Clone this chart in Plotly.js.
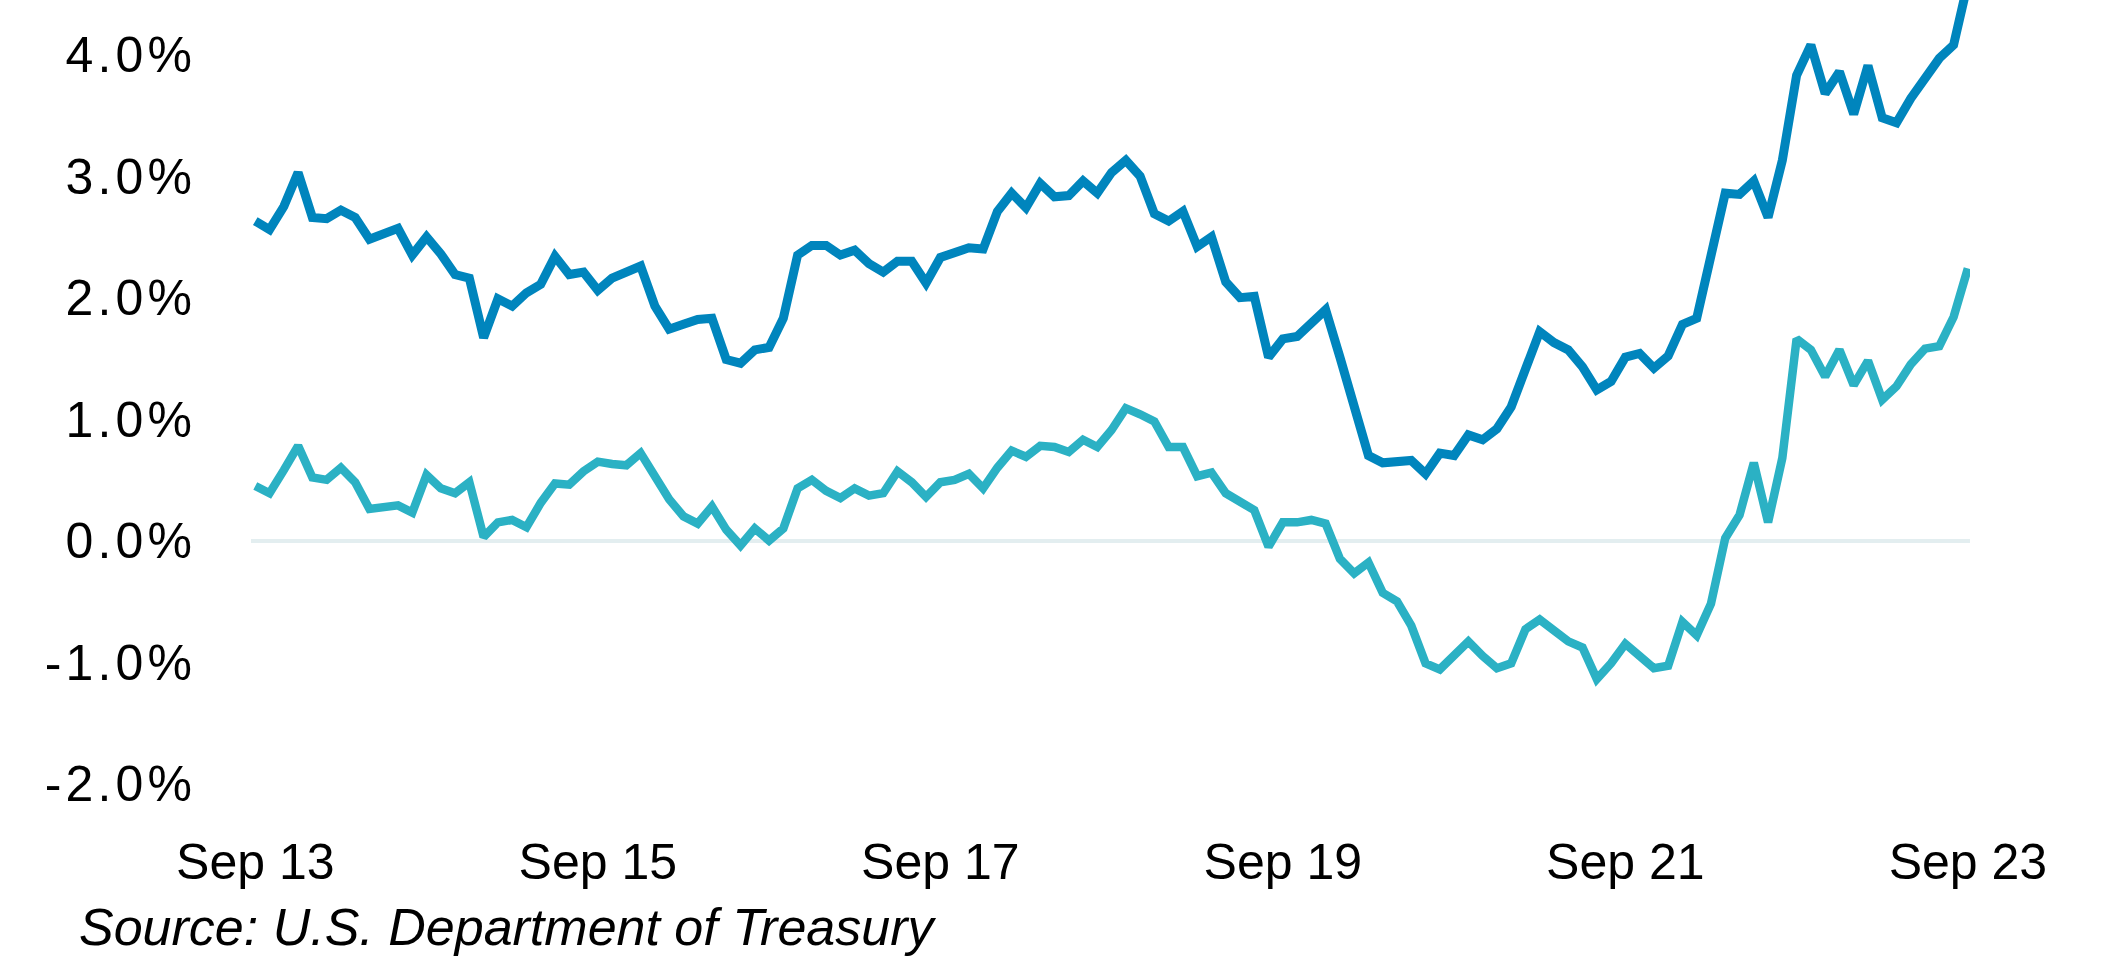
<!DOCTYPE html>
<html>
<head>
<meta charset="utf-8">
<script src="https://cdn.plot.ly/plotly-3.0.1.min.js"></script>
<style>
  html, body { margin: 0; padding: 0; background: #ffffff; }
  #chart { width: 2106px; height: 958px; }
</style>
</head>
<body>
<div id="chart"></div>
<script>
// Month categories: Sep 2013 .. Sep 2023 (121 monthly observations)
const monthNames = ["Jan","Feb","Mar","Apr","May","Jun","Jul","Aug","Sep","Oct","Nov","Dec"];
const months = [];
for (let k = 0; k < 121; k++) {
  const m = (8 + k) % 12;
  const y = 13 + Math.floor((8 + k) / 12);
  months.push(monthNames[m] + " " + String(y).padStart(2, "0"));
}

// 10-year nominal Treasury yield (%)
const nominal10y = [
  2.63, 2.56, 2.75, 3.03, 2.66, 2.65, 2.72, 2.66, 2.48, 2.52,
  2.57, 2.35, 2.50, 2.36, 2.19, 2.16, 1.67, 1.99, 1.93, 2.04,
  2.11, 2.34, 2.19, 2.21, 2.06, 2.16, 2.21, 2.26, 1.93, 1.74,
  1.78, 1.82, 1.83, 1.49, 1.46, 1.57, 1.59, 1.83, 2.35, 2.43,
  2.43, 2.35, 2.39, 2.28, 2.21, 2.30, 2.30, 2.12, 2.33, 2.37,
  2.41, 2.40, 2.71, 2.86, 2.74, 2.94, 2.83, 2.84, 2.96, 2.86,
  3.03, 3.13, 3.00, 2.69, 2.63, 2.71, 2.42, 2.50, 2.13, 2.00,
  2.01, 1.51, 1.66, 1.68, 1.78, 1.90, 1.51, 1.10, 0.70, 0.64,
  0.65, 0.66, 0.55, 0.72, 0.70, 0.87, 0.83, 0.92, 1.10, 1.43,
  1.72, 1.63, 1.57, 1.43, 1.24, 1.31, 1.51, 1.54, 1.42, 1.52,
  1.78, 1.83, 2.32, 2.86, 2.85, 2.96, 2.66, 3.13, 3.83, 4.08,
  3.68, 3.86, 3.51, 3.91, 3.48, 3.44, 3.64, 3.82, 3.97, 4.08,
  4.59
];

// 10-year real (TIPS) yield (%)
const real10y = [
  0.45, 0.39, 0.58, 0.78, 0.52, 0.50, 0.60, 0.48, 0.26, 0.28,
  0.29, 0.23, 0.54, 0.43, 0.39, 0.48, 0.03, 0.15, 0.17, 0.11,
  0.31, 0.47, 0.46, 0.57, 0.65, 0.63, 0.62, 0.72, 0.52, 0.34,
  0.20, 0.14, 0.28, 0.09, -0.04, 0.10, 0.00, 0.10, 0.43, 0.50,
  0.41, 0.35, 0.43, 0.37, 0.39, 0.57, 0.48, 0.36, 0.48, 0.50,
  0.55, 0.43, 0.60, 0.74, 0.69, 0.78, 0.77, 0.73, 0.83, 0.77,
  0.91, 1.09, 1.04, 0.98, 0.77, 0.77, 0.53, 0.56, 0.39, 0.31,
  0.25, -0.05, 0.15, 0.15, 0.17, 0.14, -0.15, -0.27, -0.18, -0.43,
  -0.50, -0.70, -1.01, -1.06, -0.95, -0.83, -0.95, -1.05, -1.01, -0.73,
  -0.65, -0.75, -0.83, -0.88, -1.14, -1.01, -0.85, -0.95, -1.05, -1.03,
  -0.67, -0.78, -0.52, 0.02, 0.21, 0.64, 0.15, 0.68, 1.66, 1.57,
  1.35, 1.57, 1.28, 1.48, 1.16, 1.27, 1.45, 1.58, 1.60, 1.84,
  2.24
];

const xTickVals = ["Sep 13", "Sep 15", "Sep 17", "Sep 19", "Sep 21", "Sep 23"];
const yTickVals = [-2, -1, 0, 1, 2, 3, 4];
const yTickText = ["-2.0%", "-1.0%", "0.0%", "1.0%", "2.0%", "3.0%", "4.0%"];

const FONT = "Liberation Sans, Arial, Helvetica, sans-serif";
const HS = "\u200A"; // hair space, to mimic the loose letter spacing of the axis labels
const spaced = s => s.split("").join(HS);

const traces = [
  {
    x: months, y: real10y, type: "scatter", mode: "lines",
    line: { color: "#2bb1c4", width: 8.5, shape: "linear" },
    hoverinfo: "skip", name: "10-Year Real Yield"
  },
  {
    x: months, y: nominal10y, type: "scatter", mode: "lines",
    line: { color: "#0085bd", width: 9, shape: "linear" },
    hoverinfo: "skip", name: "10-Year Nominal Yield"
  }
];

const layout = {
  width: 2106, height: 958,
  paper_bgcolor: "#ffffff", plot_bgcolor: "#ffffff",
  margin: { l: 251, r: 136, t: 0, b: 138 },
  showlegend: false,
  font: { family: FONT, color: "#000000", size: 50 },
  xaxis: {
    type: "category",
    range: [-0.3, 120.15],
    tickmode: "array", tickvals: xTickVals, ticktext: xTickVals,
    showgrid: false, zeroline: false, showline: false,
    ticks: "", ticklabelstandoff: 8,
    tickfont: { family: FONT, size: 50, color: "#000000" }
  },
  yaxis: {
    range: [-2.3, 4.45],
    tickmode: "array", tickvals: yTickVals, ticktext: yTickText.map(spaced),
    showgrid: false, showline: false,
    zeroline: true, zerolinecolor: "#e3eef0", zerolinewidth: 4,
    ticks: "", ticklabelstandoff: 58,
    tickfont: { family: FONT, size: 50, color: "#000000" }
  },
  annotations: [
    {
      text: "<i>Source: U.S. Department of Treasury</i>",
      xref: "paper", yref: "paper",
      x: (77 - 251) / (2106 - 251 - 136), xanchor: "left",
      y: (820 - 927) / 820, yanchor: "middle",
      showarrow: false,
      font: { family: FONT, size: 52, color: "#000000" }
    }
  ]
};

Plotly.newPlot("chart", traces, layout, { staticPlot: true, displayModeBar: false });
</script>
</body>
</html>
